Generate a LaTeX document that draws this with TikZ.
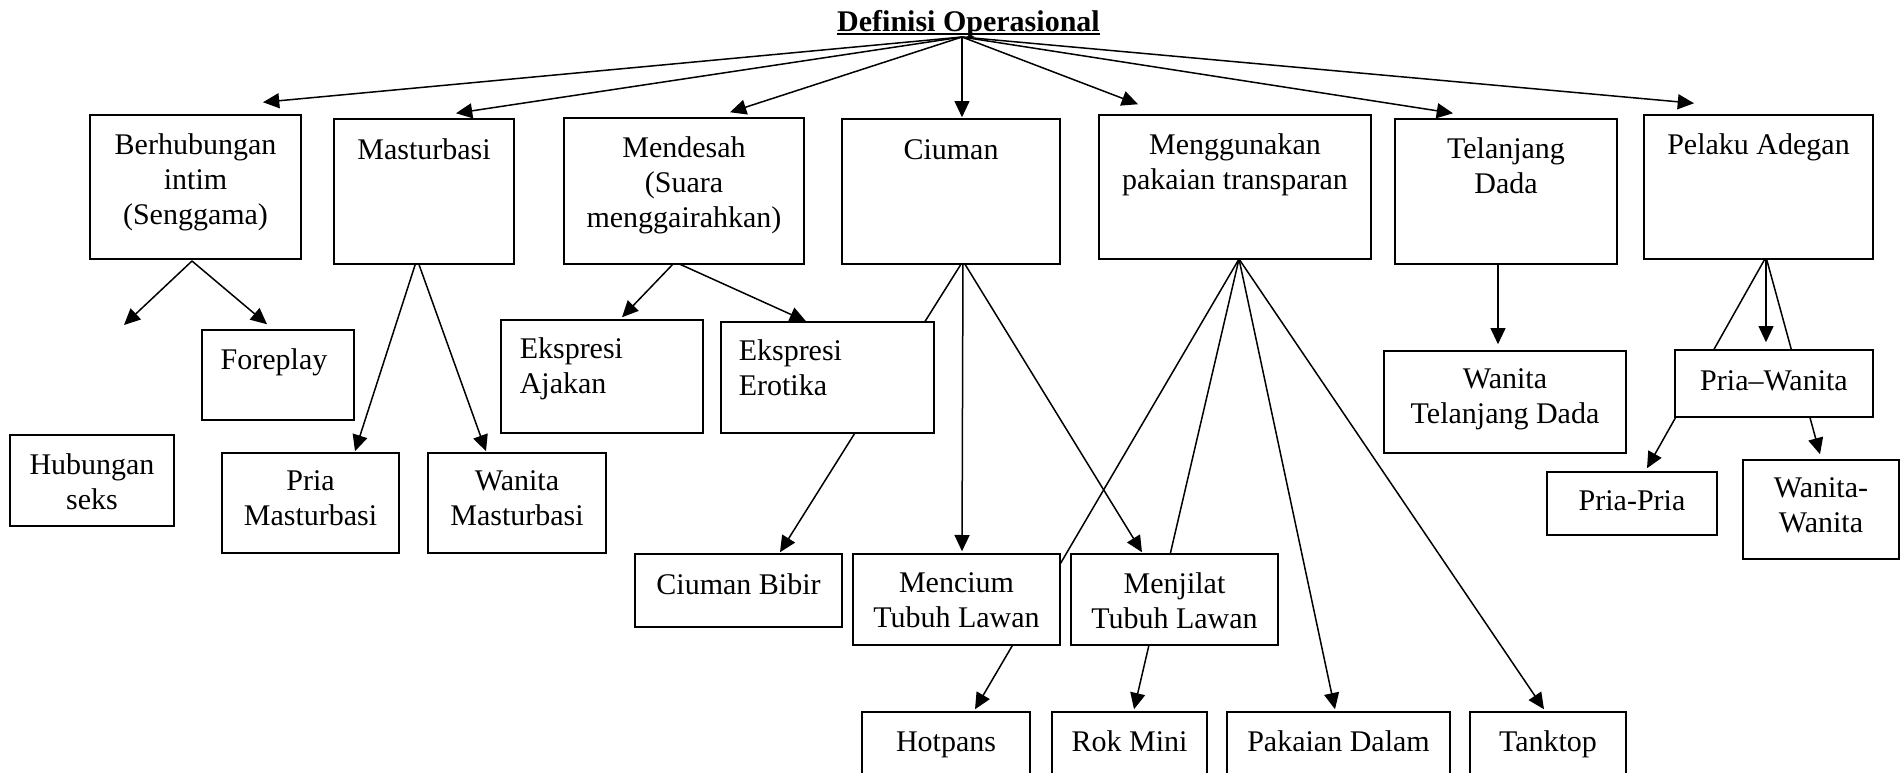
\documentclass[tikz,border=0pt]{standalone}
\usepackage{fontspec}
\setmainfont{Liberation Serif}
\usetikzlibrary{arrows.meta,calc,fit,backgrounds}
\newcommand\mybox[5]{\node[box, fit={(#2,#3) (#4,#5)}] (#1) {};}
\begin{document}
\begin{tikzpicture}[x=0.4pt,y=-0.4pt,
  box/.style={draw, line width=0.6pt, fill=white, inner sep=0pt},
  txt/.style={inner sep=0pt, align=center, anchor=north, font=\fontsize{12}{14}\selectfont, execute at begin node={\rule{0pt}{9pt}}},
  txtl/.style={txt, align=left, anchor=north west},
  arr/.style={line width=0.6pt, -{Triangle[length=6.5pt,width=6pt]}}]
\useasboundingbox (0,0) rectangle (1902,773);
\clip (0,0) rectangle (1902,773);

% title
\node[inner sep=0pt, anchor=base, font=\fontsize{12}{14}\selectfont\bfseries] (title) at (968.5,31) {Definisi Operasional};
\draw[line width=0.7pt] ($(title.base west)+(0,3)$) -- ($(title.base east)+(0,3)$);
\coordinate (root) at (962,37);

% boxes
\mybox{ber}{90}{115}{301}{259}
\mybox{mas}{334}{119}{514}{264}
\mybox{men}{564}{118}{804}{264}
\mybox{ciu}{842}{119}{1060}{264}
\mybox{mgg}{1099}{115}{1371}{259}
\mybox{tel}{1395}{119}{1617}{264}
\mybox{pel}{1644}{115}{1873}{259}
\mybox{fore}{202}{330}{354}{420}
\mybox{hs}{10}{435}{174}{526}
\mybox{pmas}{222}{453}{399}{553}
\mybox{wmas}{428}{453}{606}{553}
\mybox{ajk}{501}{320}{703}{433}
\mybox{ero}{721}{322}{934}{433}
\mybox{cbb}{635}{554}{842}{627}
\mybox{mcm}{853}{554}{1060}{645}
\mybox{mjl}{1071}{554}{1278}{645}
\mybox{hot}{862}{712}{1030}{800}
\mybox{rok}{1052}{712}{1207}{800}
\mybox{pkd}{1227}{712}{1450}{800}
\mybox{tank}{1470}{712}{1626}{800}
\mybox{wtd}{1384}{351}{1626}{453}
\mybox{pw}{1675}{350}{1873}{417}
\mybox{pp}{1547}{472}{1717}{535}
\mybox{ww}{1743}{460}{1899}{559}

% texts
\node[txt] (tber) at ($(ber.north)+(0,18.5)$) {Berhubungan\\intim\\(Senggama)};
\node[txt] (tmas) at ($(mas.north)+(0,18.5)$) {Masturbasi};
\node[txt] (tmen) at ($(men.north)+(0,18.5)$) {Mendesah\\(Suara\\menggairahkan)};
\node[txt] (tciu) at ($(ciu.north)+(0,18.5)$) {Ciuman};
\node[txt] (tmgg) at ($(mgg.north)+(0,18.5)$) {Menggunakan\\pakaian transparan};
\node[txt] (ttel) at ($(tel.north)+(0,18.5)$) {Telanjang\\Dada};
\node[txt] (tpel) at ($(pel.north)+(0,17.5)$) {Pelaku Adegan};
\node[txt] (tfore) at ($(fore.north)+(-4,17.5)$) {Foreplay};
\node[txt] (ths) at ($(hs.north)+(0,18.5)$) {Hubungan\\seks};
\node[txt] (tpmas) at ($(pmas.north)+(0,17.5)$) {Pria\\Masturbasi};
\node[txt] (twmas) at ($(wmas.north)+(0,17.5)$) {Wanita\\Masturbasi};
\node[txtl] (tajk) at ($(ajk.north west)+(19,17.5)$) {Ekspresi\\Ajakan};
\node[txtl] (tero) at ($(ero.north west)+(18,17.5)$) {Ekspresi\\Erotika};
\node[txt] (tcbb) at ($(cbb.north)+(0,18.5)$) {Ciuman Bibir};
\node[txt] (tmcm) at ($(mcm.north)+(0,18.5)$) {Mencium\\Tubuh Lawan};
\node[txt] (tmjl) at ($(mjl.north)+(0,18.5)$) {Menjilat\\Tubuh Lawan};
\node[txt] (thot) at ($(hot.north)+(0,17.5)$) {Hotpans};
\node[txt] (trok) at ($(rok.north)+(0,17.5)$) {Rok Mini};
\node[txt] (tpkd) at ($(pkd.north)+(0,17.5)$) {Pakaian Dalam};
\node[txt] (ttank) at ($(tank.north)+(0,17.5)$) {Tanktop};
\node[txt] (twtd) at ($(wtd.north)+(0,17.5)$) {Wanita\\Telanjang Dada};
\node[txt] (tpw) at ($(pw.north)+(0,18.5)$) {Pria--Wanita};
\node[txt] (tpp) at ($(pp.north)+(0,16.5)$) {Pria-Pria};
\node[txt] (tww) at ($(ww.north)+(0,17.5)$) {Wanita-\\Wanita};

% split points
\coordinate (berS) at (192,261);
\coordinate (masS) at (417,259);
\coordinate (menS) at (675,262);
\coordinate (ciuS) at (963,261);
\coordinate (mggS) at (1239,259);
\coordinate (telS) at (1498,264);
\coordinate (pelS) at (1766,257);
\coordinate (hsfree) at (124,325);

\begin{scope}[on background layer]
\draw[arr] (root) -- ($(ber.north)+(67.5,-12)$);
\draw[arr] (root) -- ($(mas.north)+(32,-5)$);
\draw[arr] (root) -- ($(men.north)+(46,-5)$);
\draw[arr] (root) -- ($(ciu.north)+(11,-1)$);
\draw[arr] (root) -- ($(mgg.north)+(-97,-10)$);
\draw[arr] (root) -- ($(tel.north)+(-53,-5)$);
\draw[arr] (root) -- ($(pel.north)+(-64.5,-11)$);

\draw[arr] (berS) -- (hsfree);
\draw[arr] (berS) -- ($(fore.north)+(-11,-5)$);
\draw[arr] (masS) -- ($(pmas.north)+(44.5,-1)$);
\draw[arr] (masS) -- ($(wmas.north)+(-31,-1)$);
\draw[arr] (menS) -- ($(ajk.north)+(20,-2)$);
\draw[arr] (menS) -- ($(ero.north)+(-21.5,0)$);
\draw[arr] (ciuS) -- ($(cbb.north)+(41.5,-1)$);
\draw[arr] (ciuS) -- ($(mcm.north)+(5.5,-2)$);
\draw[arr] (ciuS) -- ($(mjl.north)+(-32.5,-1)$);
\draw[arr] (mggS) -- ($(hot.north)+(29,-2)$);
\draw[arr] (mggS) -- ($(rok.north)+(4.5,-2)$);
\draw[arr] (mggS) -- ($(pkd.north)+(-3.5,-2)$);
\draw[arr] (mggS) -- ($(tank.north)+(-4,-2)$);
\draw[arr] (telS) -- ($(wtd.north)+(-7,-6)$);
\draw[arr] (pelS) -- ($(pp.north)+(15,-3)$);
\draw[arr] (pelS) -- ($(pw.north)+(-8,-7)$);
\draw[arr] (pelS) -- ($(ww.north)+(-1,-5)$);
\end{scope}
\end{tikzpicture}
\end{document}
